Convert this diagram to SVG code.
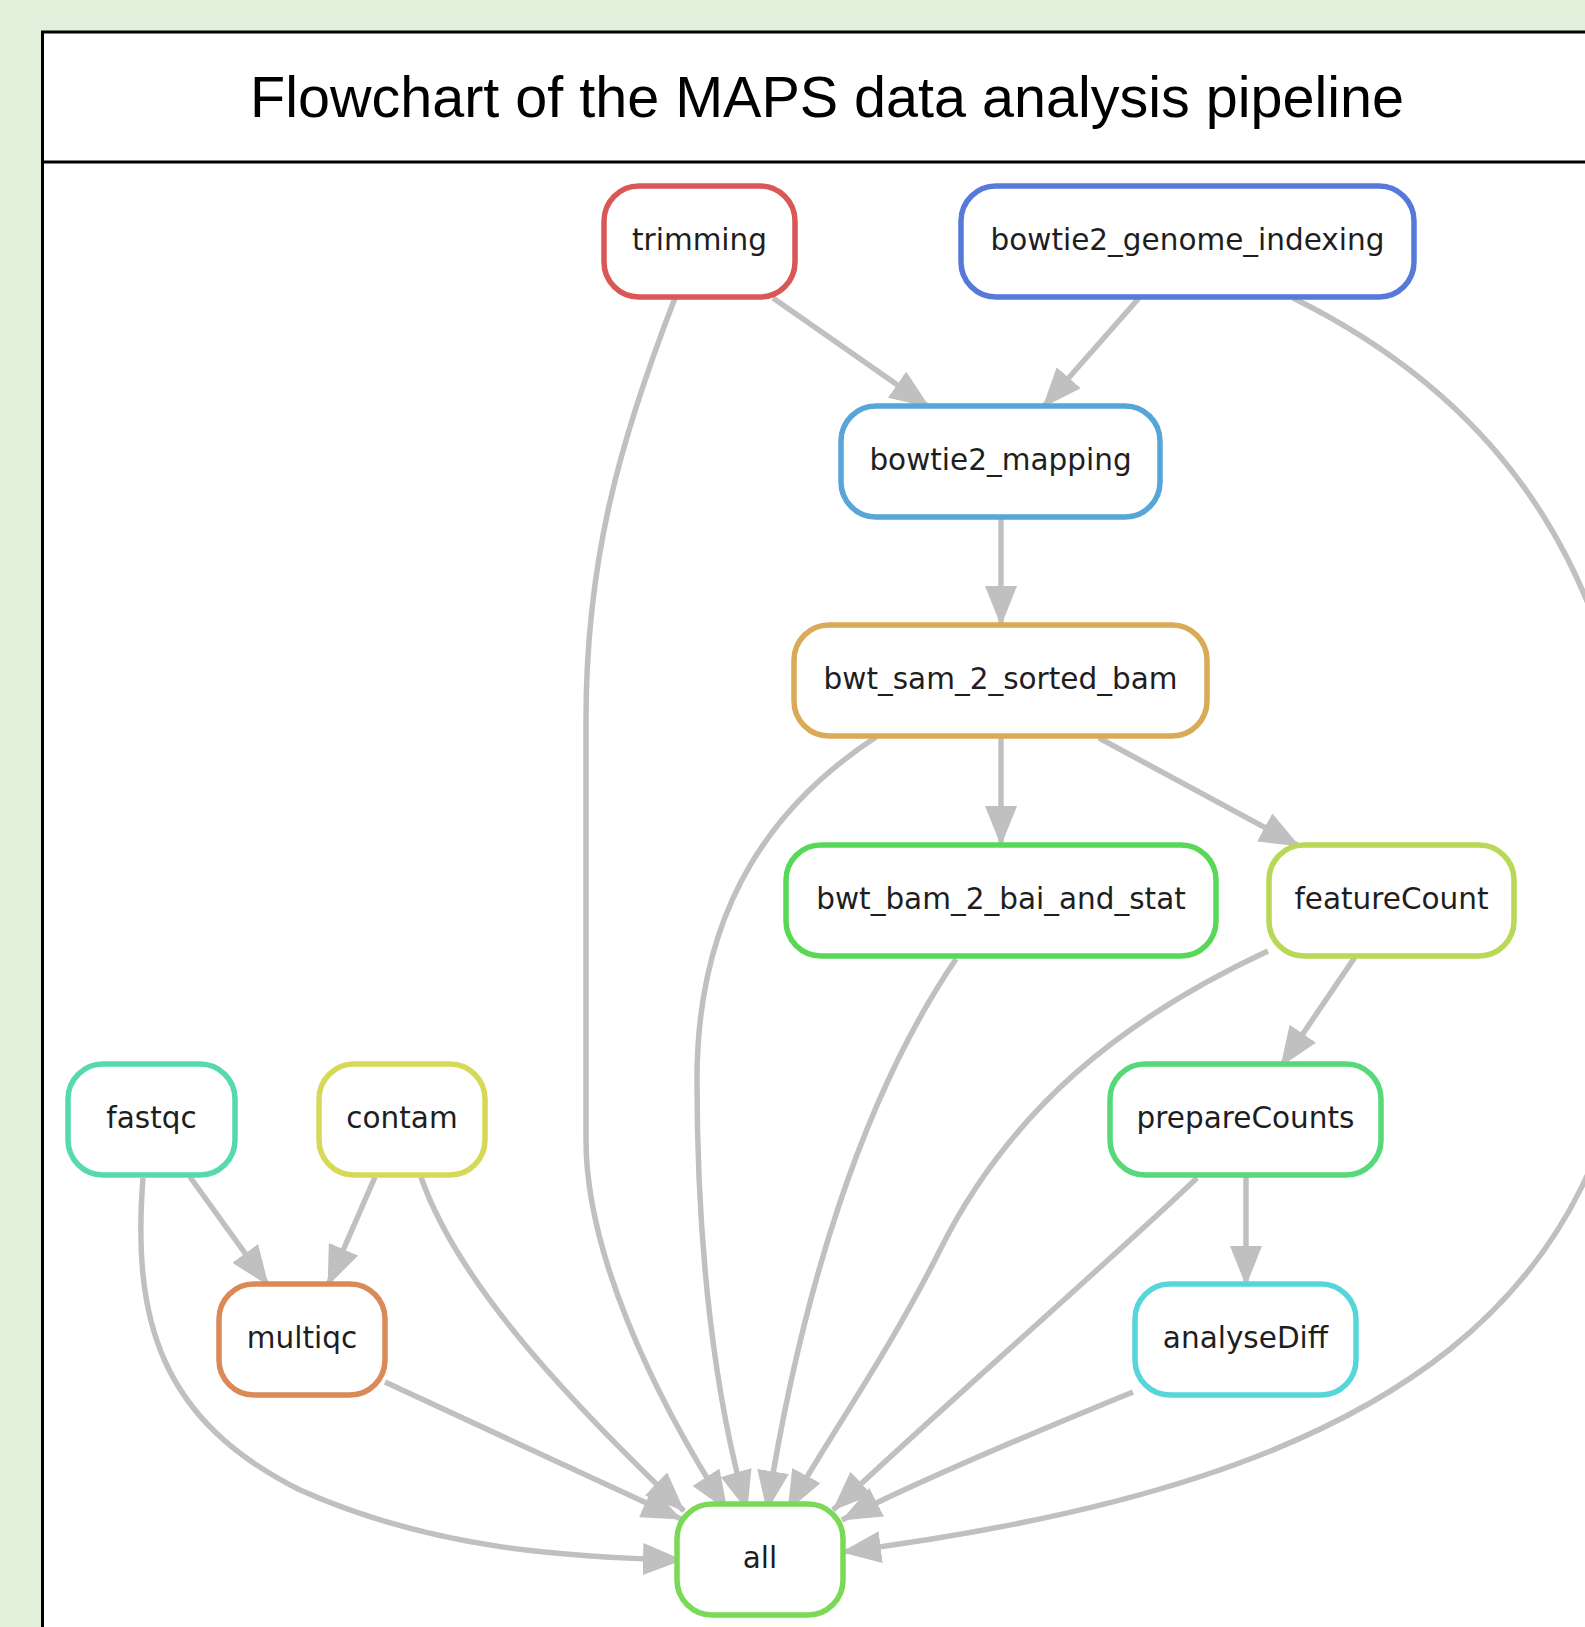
<svg xmlns="http://www.w3.org/2000/svg" width="1585" height="1627" viewBox="0 0 1585 1627">
<style>
.node rect{fill:#ffffff;stroke-width:5.5}
.node text{font-family:"DejaVu Sans",sans-serif;font-size:29.5px;fill:#1e1e1e;text-anchor:middle}
.edges path{fill:none;stroke:#c0c0c0;stroke-width:5.5;marker-end:url(#arr)}
.title{font-family:"Liberation Sans",Arial,sans-serif;font-size:57.5px;fill:#000;text-anchor:middle}
</style>
<defs>
<marker id="arr" viewBox="0 0 40 32" refX="39" refY="16" markerWidth="40" markerHeight="32" markerUnits="userSpaceOnUse" orient="auto">
<path d="M0,0 L40,16 L0,32 z" fill="#c0c0c0"/>
</marker>
</defs>
<rect x="0" y="0" width="1585" height="1627" fill="#e2efda"/>
<rect x="42.5" y="32" width="1600" height="1640" fill="#ffffff" stroke="#000" stroke-width="3"/>
<line x1="42.5" y1="162" x2="1600" y2="162" stroke="#000" stroke-width="3"/>
<text class="title" x="827" y="117">Flowchart of the MAPS data analysis pipeline</text>

<g class="edges" id="connectors">
<path d="M773,298 L929,407"/>
<path d="M1139,298 L1043,407"/>
<path d="M675,298 C620,440 586,560 586,720 L586,1140 C586,1250 650,1390 727,1510"/>
<path d="M1293,298 C1500,400 1640,580 1640,900 C1640,1300 1400,1480 842,1552"/>
<path d="M1001,517 L1001,625"/>
<path d="M1001,737 L1001,845"/>
<path d="M1099,738 L1299,846"/>
<path d="M876,737 C780,800 697,900 697,1080 C697,1250 715,1400 747,1510"/>
<path d="M956,959 C860,1100 800,1300 767,1510"/>
<path d="M1268,951 C1120,1020 1010,1110 940,1250 C885,1360 820,1450 788,1510"/>
<path d="M1355,957 L1281,1066"/>
<path d="M1246,1176 L1246,1285"/>
<path d="M1197,1178 C1100,1270 950,1400 833,1510"/>
<path d="M1133,1392 C1040,1430 920,1480 842,1520"/>
<path d="M190,1177 L268,1285"/>
<path d="M375,1177 L328,1285"/>
<path d="M143,1178 C132,1320 160,1420 300,1490 C430,1548 560,1557 682,1560"/>
<path d="M421,1177 C460,1290 580,1410 684,1511"/>
<path d="M385,1382 L681,1519"/>
</g>

<g class="node" id="trimming"><rect x="604" y="186" width="191" height="111" rx="35" stroke="#d95757"/><text x="699.5" y="249.5">trimming</text></g>
<g class="node" id="bowtie2_genome_indexing"><rect x="961" y="186" width="453" height="111" rx="35" stroke="#5779d9"/><text x="1187.5" y="249.5">bowtie2_genome_indexing</text></g>
<g class="node" id="bowtie2_mapping"><rect x="841" y="406" width="319" height="111" rx="35" stroke="#57a5d9"/><text x="1000.5" y="469.5">bowtie2_mapping</text></g>
<g class="node" id="bwt_sam_2_sorted_bam"><rect x="794" y="625" width="413" height="111" rx="35" stroke="#d9ab57"/><text x="1000.5" y="688.5">bwt_sam_2_sorted_bam</text></g>
<g class="node" id="bwt_bam_2_bai_and_stat"><rect x="786" y="845" width="430" height="111" rx="35" stroke="#57d957"/><text x="1001" y="908.5">bwt_bam_2_bai_and_stat</text></g>
<g class="node" id="featureCount"><rect x="1269" y="845" width="245" height="111" rx="35" stroke="#b8d957"/><text x="1391.5" y="908.5">featureCount</text></g>
<g class="node" id="fastqc"><rect x="68" y="1064" width="167" height="111" rx="35" stroke="#57d9b0"/><text x="151.5" y="1127.5">fastqc</text></g>
<g class="node" id="contam"><rect x="319" y="1064" width="166" height="111" rx="35" stroke="#d6d957"/><text x="402" y="1127.5">contam</text></g>
<g class="node" id="prepareCounts"><rect x="1110" y="1064" width="271" height="111" rx="35" stroke="#57d97a"/><text x="1245.5" y="1127.5">prepareCounts</text></g>
<g class="node" id="multiqc"><rect x="219" y="1284" width="166" height="111" rx="35" stroke="#d98a57"/><text x="302" y="1347.5">multiqc</text></g>
<g class="node" id="analyseDiff"><rect x="1135" y="1284" width="221" height="111" rx="35" stroke="#57d6d9"/><text x="1245.5" y="1347.5">analyseDiff</text></g>
<g class="node" id="all"><rect x="677" y="1504" width="166" height="111" rx="35" stroke="#7ad957"/><text x="760" y="1567.5">all</text></g>
</svg>
